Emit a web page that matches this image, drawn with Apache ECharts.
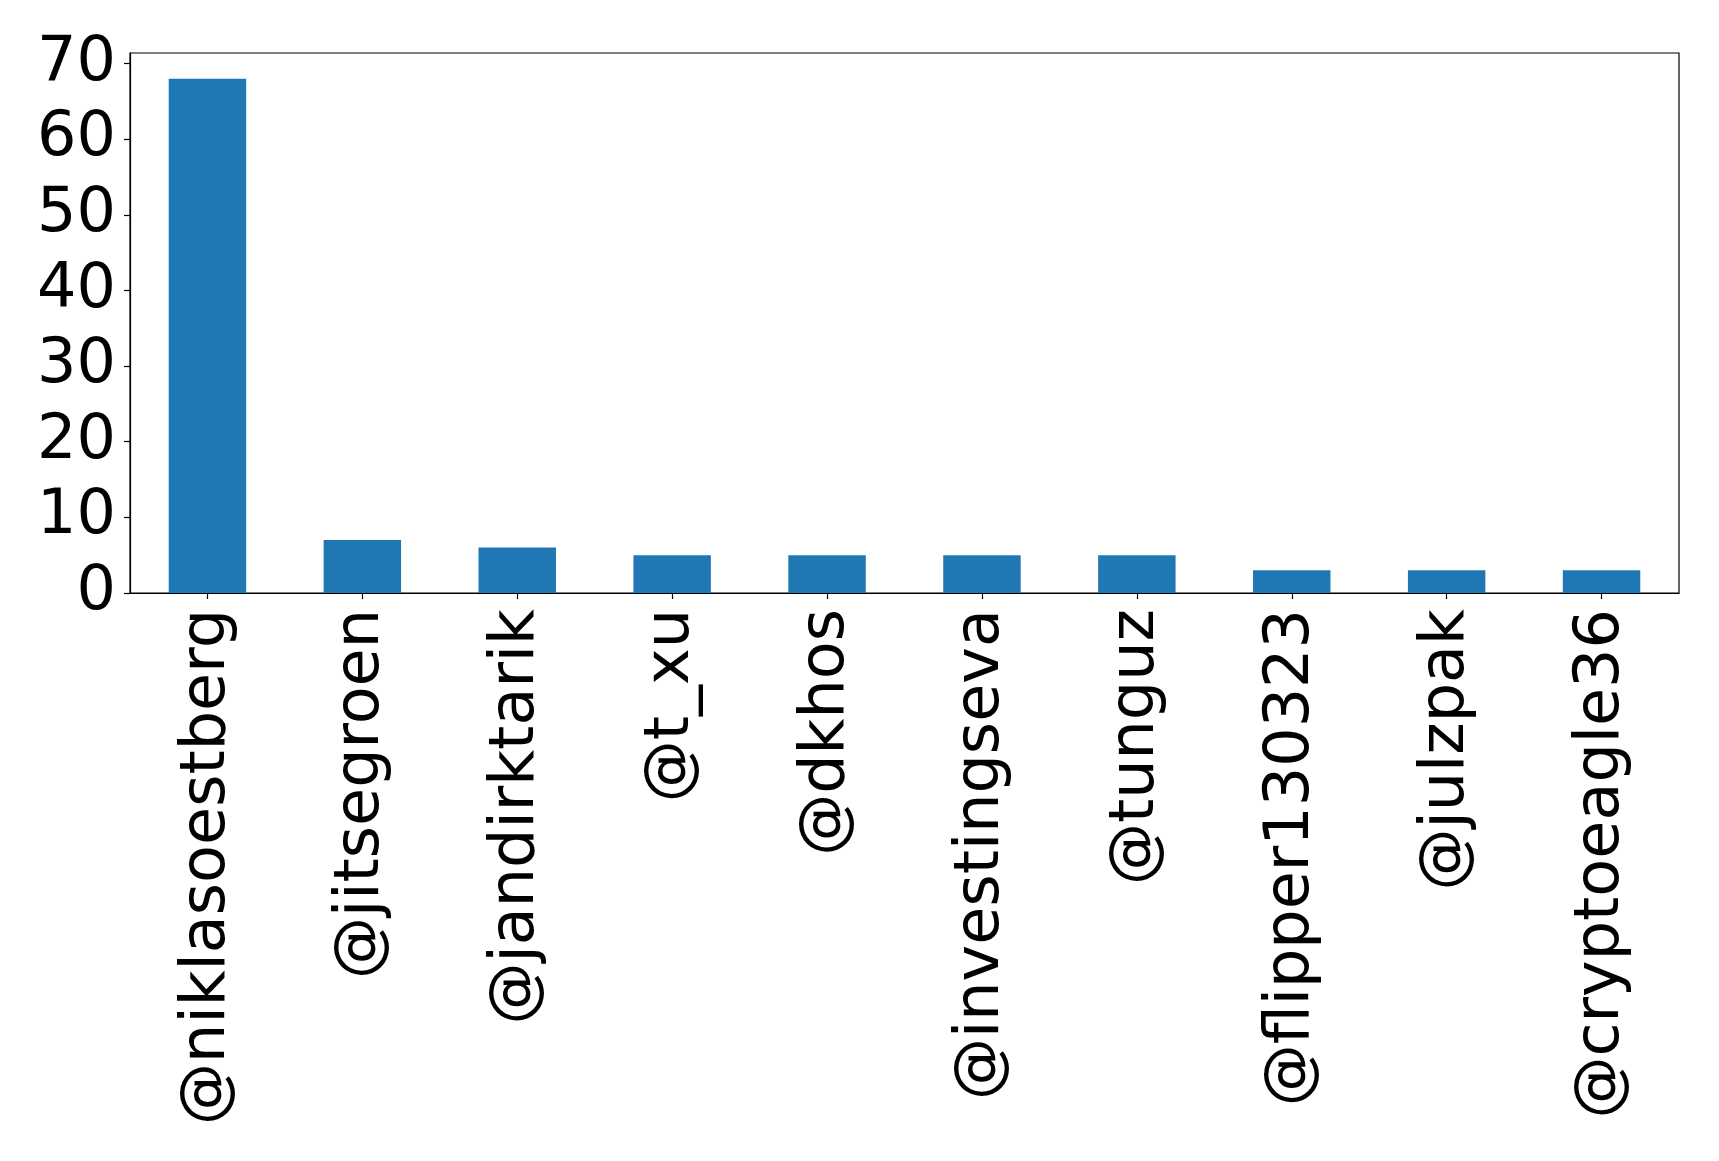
<!DOCTYPE html>
<html>
<head>
<meta charset="utf-8">
<script src="https://cdn.jsdelivr.net/npm/echarts@6/dist/echarts.min.js"></script>
<style>html,body{margin:0;padding:0;background:#fff;}#c{width:1719px;height:1161px;}</style>
</head>
<body>
<div id="c"></div>
<script>
const categories = ['@niklasoestberg','@jitsegroen','@jandirktarik','@t_xu','@dkhos','@investingseva','@tunguz','@flipper130323','@julzpak','@cryptoeagle36'];
const values = [68, 7, 6, 5, 5, 5, 5, 3, 3, 3];
const yTicks = [0, 10, 20, 30, 40, 50, 60, 70];

const chart = echarts.init(document.getElementById('c'), null, {renderer: 'canvas'});
const FONT = 'DejaVu Sans';
const FS = 62;
chart.setOption({
  animation: false,
  backgroundColor: '#fff',
  grid: {left: 130, right: 40, top: 53, bottom: 568, show: true, borderColor: '#000', borderWidth: 1.2, containLabel: false},
  xAxis: {
    type: 'category',
    data: categories,
    boundaryGap: true,
    axisLine: {show: true, lineStyle: {color: '#000', width: 1.2}},
    axisTick: {show: true, alignWithLabel: true, length: 6, lineStyle: {color: '#000', width: 1.2}},
    axisLabel: {rotate: 90, margin: 16, color: '#000', fontFamily: FONT, fontSize: FS, interval: 0}
  },
  yAxis: {
    type: 'value',
    min: 0,
    max: 71.4,
    interval: 10,
    splitLine: {show: false},
    axisLine: {show: true, lineStyle: {color: '#000', width: 1.2}},
    axisTick: {show: true, length: 6, lineStyle: {color: '#000', width: 1.2}},
    axisLabel: {
      margin: 14, color: '#000', fontFamily: FONT, fontSize: FS, showMaxLabel: false,
      formatter: v => yTicks.indexOf(v) >= 0 ? String(v) : ''
    }
  },
  series: [{
    type: 'bar',
    data: values,
    barWidth: '50%',
    itemStyle: {color: '#1f77b4'}
  }]
});
</script>
</body>
</html>
